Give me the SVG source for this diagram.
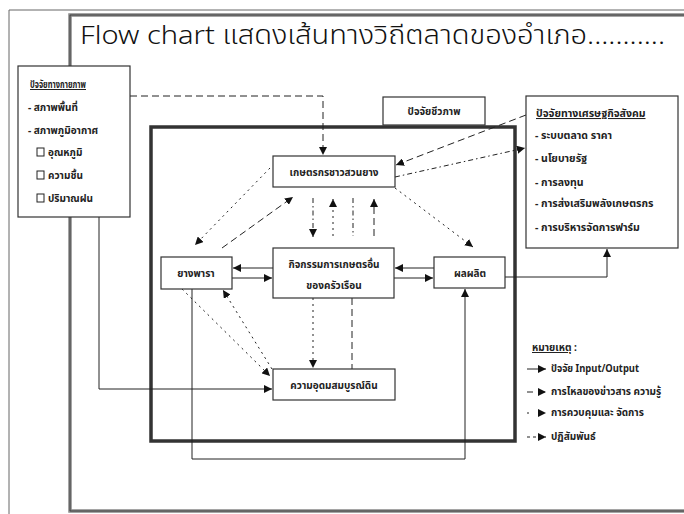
<svg xmlns="http://www.w3.org/2000/svg" width="684" height="514" viewBox="0 0 684 514">
<style>
.t{font-family:"Noto Sans Thai","Noto Serif Thai","Liberation Serif","DejaVu Serif",serif;font-size:10px;fill:#222;font-weight:bold}
.c{text-anchor:middle}
.r{font-size:10.5px}
.box{fill:#fff;stroke:#333;stroke-width:1.2}
.ln{fill:none;stroke:#222;stroke-width:1}
.dash{stroke-dasharray:7,4}
.dot{stroke-dasharray:2,4}
.dd{stroke-dasharray:5,3,1.5,3}
</style>
<defs>
<marker id="ah" viewBox="0 0 10 10" refX="10" refY="5" markerWidth="8" markerHeight="8" markerUnits="userSpaceOnUse" orient="auto"><path d="M0,0 L10,5 L0,10 z" fill="#111"/></marker>
</defs>
<rect width="684" height="514" fill="#fff"/>
<g id="page">
<path d="M9,514 V10 H684" fill="none" stroke="#666" stroke-width="1"/>
<path d="M684,15 H70 V511 H684" fill="none" stroke="#888" stroke-width="3.5"/>
<path d="M684,15 H70 V511 H684" fill="none" stroke="#333" stroke-width="0.8"/>
<text x="80" y="44" style="font-family:'Noto Sans Thai','Noto Sans','Liberation Sans',sans-serif;font-size:26px;fill:#111;font-weight:300" textLength="585" lengthAdjust="spacingAndGlyphs">Flow chart แสดงเส้นทางวิถีตลาดของอำเภอ...........</text>
</g>
<g id="main-frame">
<rect x="151" y="127" width="364" height="314" fill="none" stroke="#333" stroke-width="3.5"/>
</g>
<g id="connectors">
<path class="ln dash" d="M130,96 H323 V155" marker-end="url(#ah)"/>
<path class="ln dash" d="M526,115 L396,165" marker-end="url(#ah)"/>
<path class="ln dd" d="M395,177 L525,148" marker-end="url(#ah)"/>
<path class="ln dot" d="M270,168 L195,245" marker-end="url(#ah)"/>
<path class="ln dash" d="M222,248 L293,197" marker-end="url(#ah)"/>
<path class="ln dd" d="M313,198 V237" marker-end="url(#ah)"/>
<path class="ln dot" d="M333,236 V199" marker-end="url(#ah)"/>
<path class="ln dd" d="M353,198 V236"/>
<path class="ln dash" d="M374,236 V199" marker-end="url(#ah)"/>
<path class="ln dot" d="M395,188 L473,247" marker-end="url(#ah)"/>
<path class="ln" d="M273,268 H233" marker-end="url(#ah)"/>
<path class="ln" d="M232,278 H272" marker-end="url(#ah)"/>
<path class="ln" d="M434,268 H395" marker-end="url(#ah)"/>
<path class="ln" d="M394,278 H433" marker-end="url(#ah)"/>
<path class="ln" d="M505,277 H607 V249" marker-end="url(#ah)"/>
<path class="ln" d="M99,217 V389 H272" marker-end="url(#ah)"/>
<path class="ln" d="M192,289 V459 H465 V289" marker-end="url(#ah)"/>
<path class="ln dot" d="M182,289 L270,376" marker-end="url(#ah)"/>
<path class="ln dot" d="M272,369 L223,290" marker-end="url(#ah)"/>
<path class="ln dot" d="M313,298 V368" marker-end="url(#ah)"/>
<path class="ln dash" d="M352,298 V369"/>
</g>
<g id="physical-factors">
<rect class="box" x="18" y="66" width="112" height="151"/>
<text class="t" x="30" y="88" text-decoration="underline" textLength="56" lengthAdjust="spacingAndGlyphs">ปัจจัยทางกายภาพ</text>
<text class="t" x="28" y="111">- สภาพพื้นที่</text>
<text class="t" x="28" y="134">- สภาพภูมิอากาศ</text>
<rect x="37" y="148" width="7" height="8" fill="none" stroke="#222" stroke-width="1"/>
<text class="t" x="48" y="156">อุณหภูมิ</text>
<rect x="37" y="171" width="7" height="8" fill="none" stroke="#222" stroke-width="1"/>
<text class="t" x="48" y="179">ความชื้น</text>
<rect x="37" y="194" width="7" height="8" fill="none" stroke="#222" stroke-width="1"/>
<text class="t" x="48" y="202">ปริมาณฝน</text>
</g>
<g id="bio-factors">
<rect class="box" x="383" y="97" width="102" height="28"/>
<text class="t c" x="434" y="115">ปัจจัยชีวภาพ</text>
</g>
<g id="socio-factors">
<rect class="box" x="526" y="96" width="152" height="152"/>
<text class="t r" x="536" y="117" text-decoration="underline">ปัจจัยทางเศรษฐกิจสังคม</text>
<text class="t r" x="535" y="139">- ระบบตลาด ราคา</text>
<text class="t r" x="535" y="162">- นโยบายรัฐ</text>
<text class="t r" x="535" y="186">- การลงทุน</text>
<text class="t r" x="535" y="207">- การส่งเสริมพลังเกษตรกร</text>
<text class="t r" x="535" y="231">- การบริหารจัดการฟาร์ม</text>
</g>
<g id="farmer">
<rect class="box" x="273" y="156" width="122" height="31"/>
<text class="t c" x="334" y="176">เกษตรกรชาวสวนยาง</text>
</g>
<g id="rubber">
<rect class="box" x="161" y="257" width="71" height="32"/>
<text class="t c" x="196" y="277">ยางพารา</text>
</g>
<g id="activities">
<rect class="box" x="273" y="248" width="121" height="50"/>
<text class="t c" x="334" y="268">กิจกรรมการเกษตรอื่น</text>
<text class="t c" x="334" y="289">ของครัวเรือน</text>
</g>
<g id="yield">
<rect class="box" x="434" y="257" width="71" height="31"/>
<text class="t c" x="470" y="277">ผลผลิต</text>
</g>
<g id="soil">
<rect class="box" x="273" y="369" width="122" height="31"/>
<text class="t c" x="334" y="389">ความอุดมสมบูรณ์ดิน</text>
</g>
<g id="legend">
<text class="t" x="532" y="351"><tspan text-decoration="underline">หมายเหตุ</tspan> :</text>
<path class="ln" d="M527,369 H546" marker-end="url(#ah)"/>
<text class="t" x="551" y="372" textLength="88" lengthAdjust="spacingAndGlyphs">ปัจจัย Input/Output</text>
<path class="ln" d="M527,392 H546" stroke-dasharray="6,6" marker-end="url(#ah)"/>
<text class="t" x="551" y="395">การไหลของข่าวสาร ความรู้</text>
<path class="ln" d="M527,413 H546" stroke-dasharray="2,11" marker-end="url(#ah)"/>
<text class="t" x="551" y="416">การควบคุมและ จัดการ</text>
<path class="ln" d="M527,437 H546" stroke-dasharray="3,3" marker-end="url(#ah)"/>
<text class="t" x="551" y="440">ปฏิสัมพันธ์</text>
</g>
</svg>
